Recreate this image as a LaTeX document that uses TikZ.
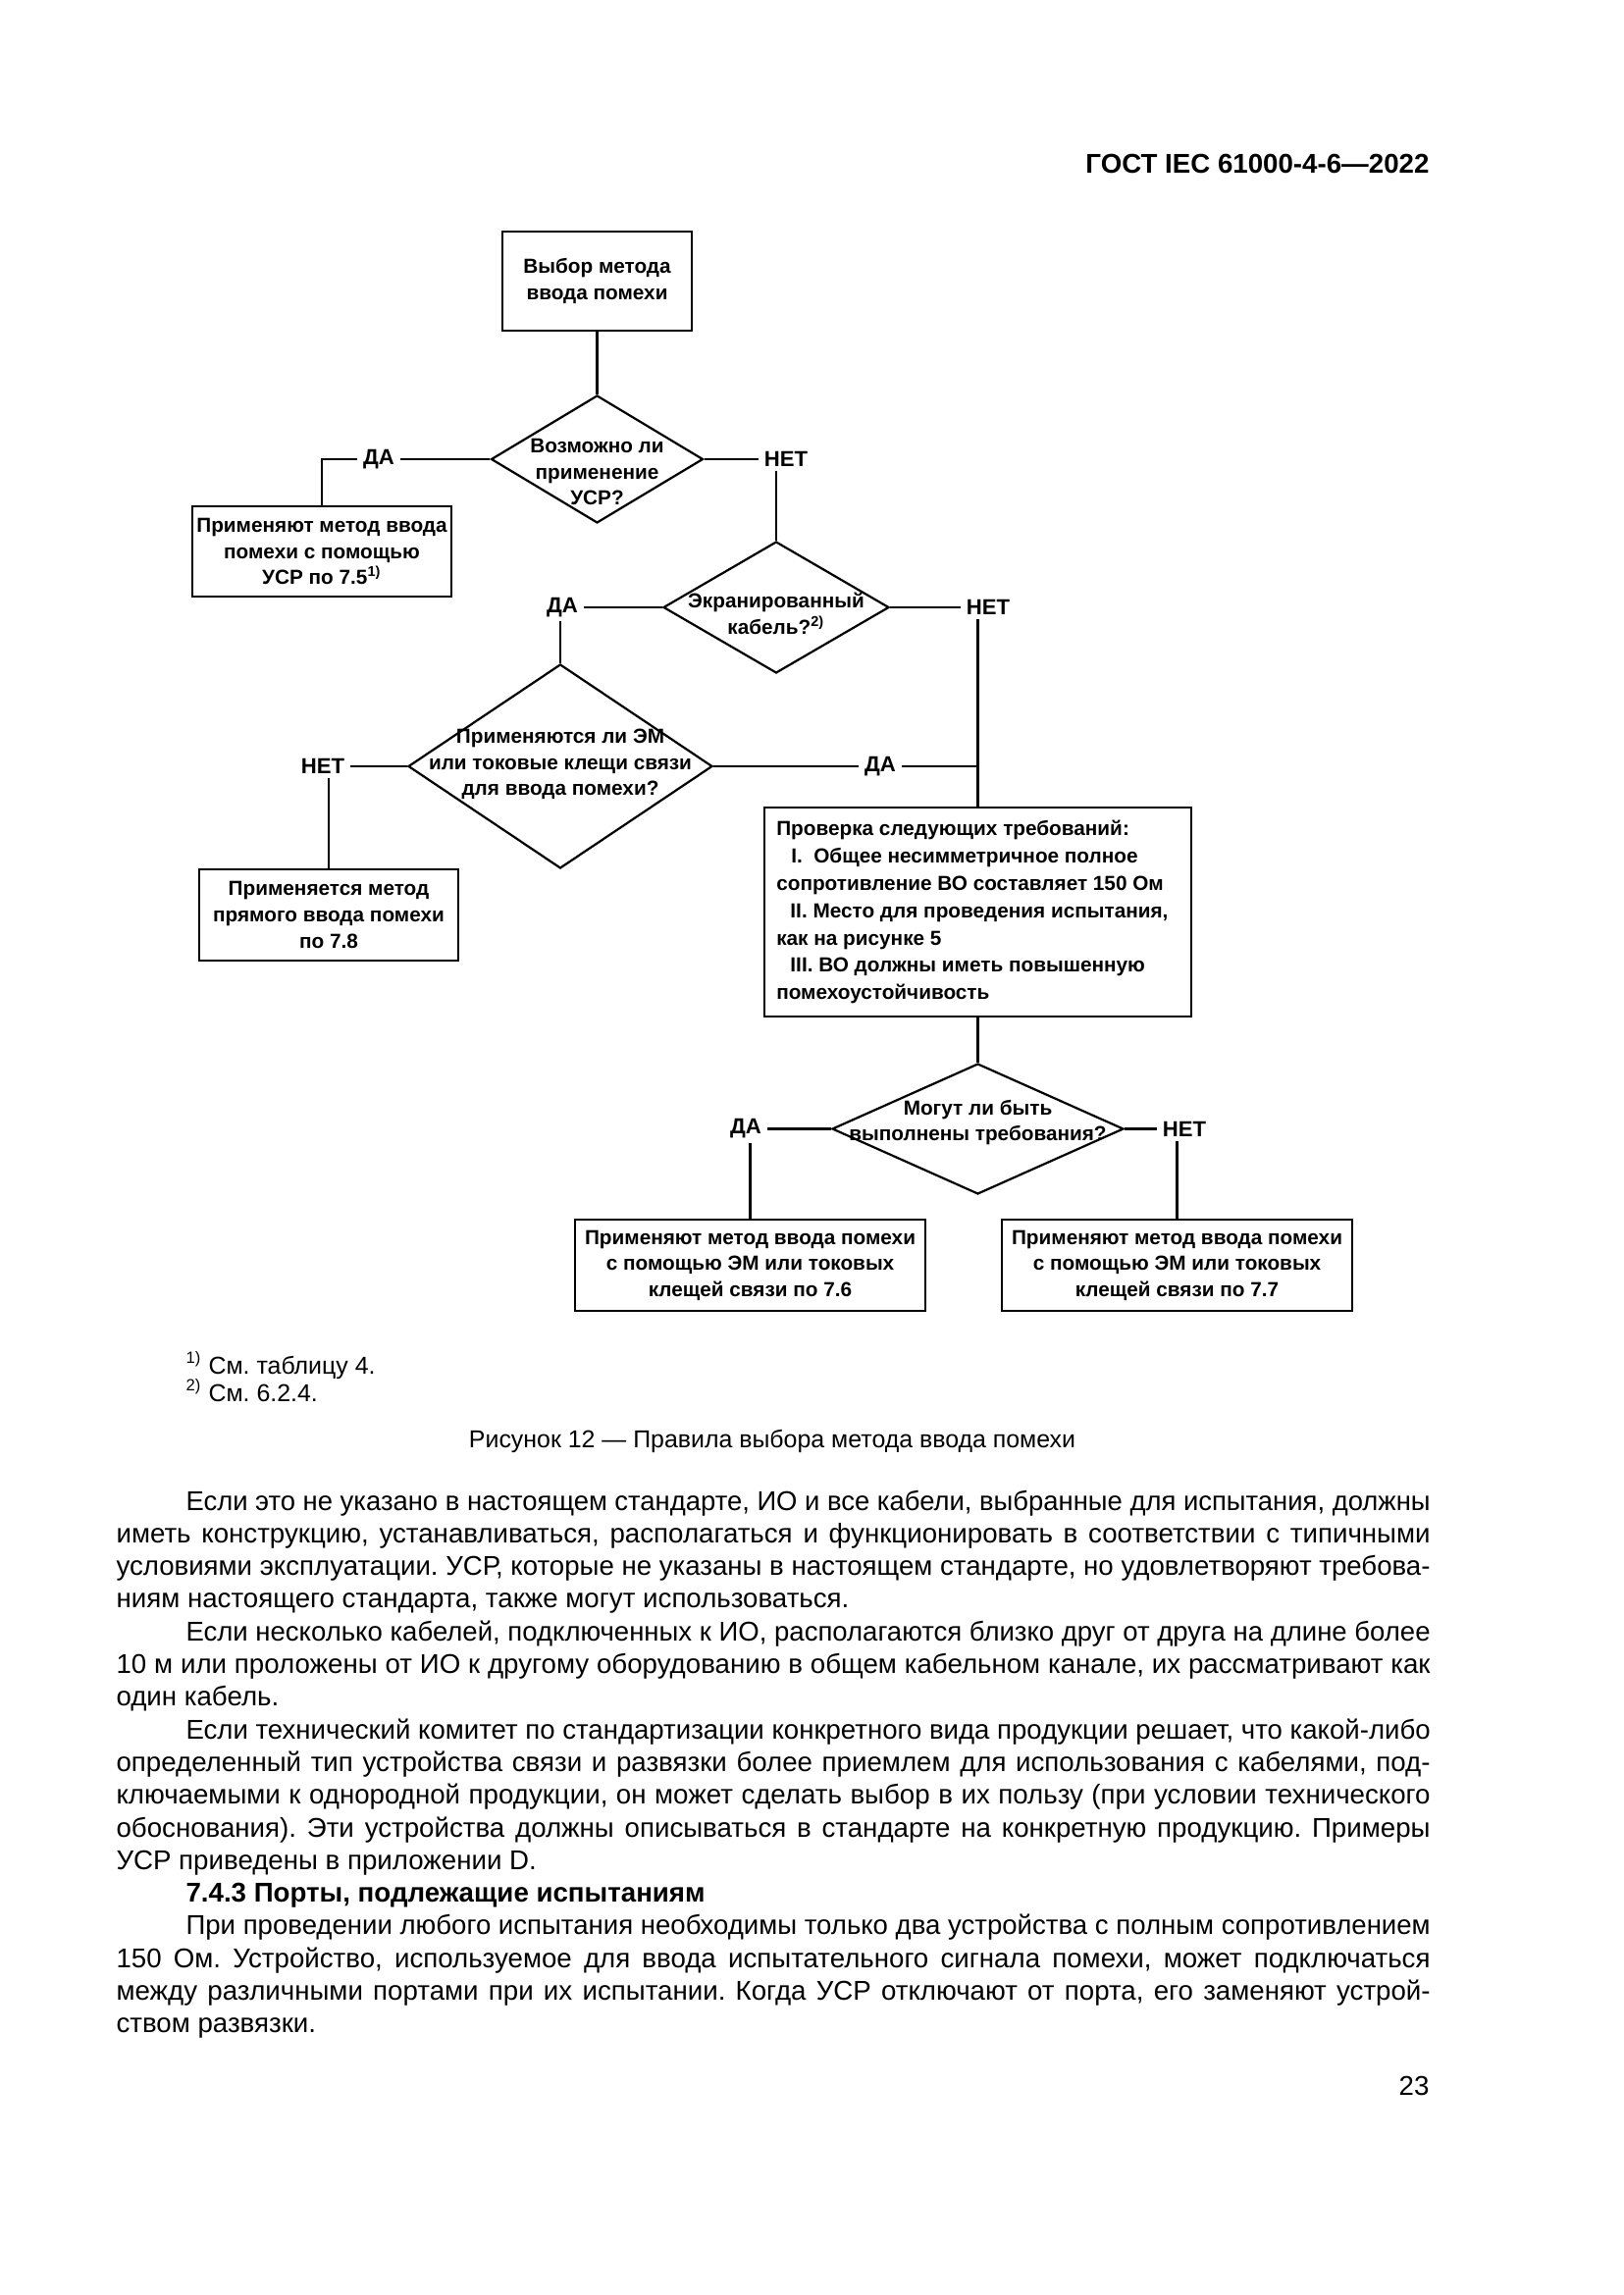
\documentclass[tikz,border=0pt]{standalone}
\usepackage{fontspec}
\setmainfont{Liberation Sans}
\usepackage{graphicx}
\usetikzlibrary{positioning,shapes.geometric,calc}
\frenchspacing

\newcommand\diafont{\fontsize{7.5}{9.6}\selectfont\bfseries}
\newcommand\labfont{\fontsize{8}{9.6}\selectfont\bfseries}
\newcommand\bodyfont{\fontsize{10}{12}\selectfont}
\newlength\fullw \setlength\fullw{170.05mm}
\newlength\indw  \setlength\indw{161.04mm}
\newlength\natw
% justified line of the page text: spread, or squeezed if too long
\newcommand\fitline[2]{\settowidth{\natw}{#2}%
  \ifdim\natw>#1\relax\resizebox{#1}{\height}{#2}\else\makebox[#1][s]{#2}\fi}

\tikzset{
  flowbox/.style={draw, rectangle, line width=0.9pt, inner sep=0pt, align=center, font=\diafont},
  dia/.style={draw, diamond, line width=0.8pt, inner sep=0pt},
  dtext/.style={align=center, inner sep=0pt, font=\diafont},
  yesno/.style={inner xsep=0.7mm, inner ysep=0.5mm, font=\labfont},
  conn/.style={line width=0.8pt},
  bodyln/.style={anchor=base west, inner sep=0pt, font=\bodyfont},
}

\begin{document}
\begin{tikzpicture}[x=0.127mm, y=-0.127mm]
  \path[use as bounding box, fill=white] (0,0) rectangle (1654,2339);

  \node[anchor=base east, inner sep=0pt, font=\fontsize{10}{12}\selectfont\bfseries] (hdr) at (1457,177) {ГОСТ IEC 61000-4-6—2022};

  % boxes and decisions
  \node[flowbox, minimum width=24.51mm, minimum height=12.83mm] (b1) at (608.5,286.5) {Выбор метода\\ввода помехи};
  \node[dia, minimum width=27.43mm, minimum height=16.51mm] (d1) at (608.5,468) {};
  \node[dtext] (t1) at (608.5,481) {Возможно ли\\применение\\УСР?};
  \node[flowbox, minimum width=33.53mm, minimum height=11.68mm] (b2) at (328,562) {Применяют метод ввода\\помехи с помощью\\УСР по 7.5\textsuperscript{1)}};
  \node[dia, minimum width=29.21mm, minimum height=17.02mm] (d2) at (791,619) {};
  \node[dtext] (t2) at (791,625.5) {Экранированный\\кабель?\textsuperscript{2)}};
  \node[dia, minimum width=39.37mm, minimum height=26.42mm] (d3) at (571,781) {};
  \node[dtext] (t3) at (571,779) {Применяются ли ЭМ\\или токовые клещи связи\\для ввода помехи?};
  \node[flowbox, minimum width=33.53mm, minimum height=11.81mm] (b3) at (335,932.5) {Применяется метод\\прямого ввода помехи\\по 7.8};
  \node[flowbox, minimum width=55.25mm, minimum height=27.05mm] (b4) at (996.5,929.5) {};
  \node[dtext, align=left, anchor=west, font=\fontsize{7.5}{10.1}\selectfont\bfseries] (t4) at ($(b4.west)+(13,0)$)
    {Проверка следующих требований:\\
     \hspace*{1.9mm}I.\ \ Общее несимметричное полное\\
     сопротивление ВО составляет 150 Ом\\
     \hspace*{1.8mm}II. Место для проведения испытания,\\
     как на рисунке 5\\
     \hspace*{1.8mm}III. ВО должны иметь повышенную\\
     помехоустойчивость};
  \node[dia, minimum width=37.72mm, minimum height=16.89mm] (d4) at (996.5,1150.5) {};
  \node[dtext] (t5) at (996.5,1144) {Могут ли быть\\выполнены требования?};
  \node[flowbox, minimum width=45.34mm, minimum height=11.81mm] (b5) at (764.5,1289.5) {Применяют метод ввода помехи\\с помощью ЭМ или токовых\\клещей связи по 7.6};
  \node[flowbox, minimum width=45.34mm, minimum height=11.81mm] (b6) at (1199.5,1289.5) {Применяют метод ввода помехи\\с помощью ЭМ или токовых\\клещей связи по 7.7};

  % yes / no labels
  \node[yesno] (da1) at (386,468) {ДА};
  \node[yesno] (net1) at (801,468) {НЕТ};
  \node[yesno] (da2) at (573,619) {ДА};
  \node[yesno] (net2) at (1007,619) {НЕТ};
  \node[yesno] (net3) at (329,781) {НЕТ};
  \node[yesno] (da3) at (897,781) {ДА};
  \node[yesno] (da4) at (760,1150.5) {ДА};
  \node[yesno] (net4) at (1207,1150.5) {НЕТ};

  % connectors
  \draw[conn] (b1.south) -- (d1.north);
  \draw[conn] (d1.west) -- (da1.east);
  \draw[conn] (da1.west) -| (b2.north);
  \draw[conn] (d1.east) -- (net1.west);
  \draw[conn] (net1.south -| d2.north) -- (d2.north);
  \draw[conn] (d2.west) -- (da2.east);
  \draw[conn] (da2.south -| d3.north) -- (d3.north);
  \draw[conn] (d2.east) -- (net2.west);
  \draw[conn] (net2.south -| b4.north) -- (b4.north);
  \draw[conn] (d3.east) -- (da3.west);
  \draw[conn] (da3.east) -- (da3.east -| b4.north);
  \draw[conn] (net3.east) -- (d3.west);
  \draw[conn] (net3.south -| b3.north) -- (b3.north);
  \draw[conn] (b4.south) -- (d4.north);
  \draw[conn] (d4.west) -- (da4.east);
  \draw[conn] (da4.south -| b5.north) -- (b5.north);
  \draw[conn] (d4.east) -- (net4.west);
  \draw[conn] (net4.south -| b6.north) -- (b6.north);

  % notes and caption
  \node[anchor=base west, inner sep=0pt, font=\fontsize{9}{11}\selectfont] (fn1) at (189,1400) {\textsuperscript{1)} См. таблицу 4.};
  \node[anchor=base west, inner sep=0pt, font=\fontsize{9}{11}\selectfont] (fn2) at (189,1428) {\textsuperscript{2)} См. 6.2.4.};
  \node[anchor=base, inner sep=0pt, font=\fontsize{9}{11}\selectfont] (cap) at (787,1475) {Рисунок 12 — Правила выбора метода ввода помехи};

  % page text
  \node[bodyln] (p1a) at (189,1539.0) {\fitline\indw{Если это не указано в настоящем стандарте, ИО и все кабели, выбранные для испытания, должны}};
  \node[bodyln] (p1b) at (118,1572.3) {\fitline\fullw{иметь конструкцию, устанавливаться, располагаться и функционировать в соответствии с типичными}};
  \node[bodyln] (p1c) at (118,1605.6) {\fitline\fullw{условиями эксплуатации. УСР, которые не указаны в настоящем стандарте, но удовлетворяют требова-}};
  \node[bodyln] (p1d) at (118,1638.9) {ниям настоящего стандарта, также могут использоваться.};
  \node[bodyln] (p2a) at (189,1672.2) {\fitline\indw{Если несколько кабелей, подключенных к ИО, располагаются близко друг от друга на длине более}};
  \node[bodyln] (p2b) at (118,1705.5) {\fitline\fullw{10 м или проложены от ИО к другому оборудованию в общем кабельном канале, их рассматривают как}};
  \node[bodyln] (p2c) at (118,1738.8) {один кабель.};
  \node[bodyln] (p3a) at (189,1772.1) {\fitline\indw{Если технический комитет по стандартизации конкретного вида продукции решает, что какой-либо}};
  \node[bodyln] (p3b) at (118,1805.4) {\fitline\fullw{определенный тип устройства связи и развязки более приемлем для использования с кабелями, под-}};
  \node[bodyln] (p3c) at (118,1838.7) {\fitline\fullw{ключаемыми к однородной продукции, он может сделать выбор в их пользу (при условии технического}};
  \node[bodyln] (p3d) at (118,1872.0) {\fitline\fullw{обоснования). Эти устройства должны описываться в стандарте на конкретную продукцию. Примеры}};
  \node[bodyln] (p3e) at (118,1905.3) {УСР приведены в приложении D.};
  \node[bodyln, font=\bodyfont\bfseries] (h743) at (189,1938.6) {7.4.3 Порты, подлежащие испытаниям};
  \node[bodyln] (p4a) at (189,1971.9) {\fitline\indw{При проведении любого испытания необходимы только два устройства с полным сопротивлением}};
  \node[bodyln] (p4b) at (118,2005.2) {\fitline\fullw{150 Ом. Устройство, используемое для ввода испытательного сигнала помехи, может подключаться}};
  \node[bodyln] (p4c) at (118,2038.5) {\fitline\fullw{между различными портами при их испытании. Когда УСР отключают от порта, его заменяют устрой-}};
  \node[bodyln] (p4d) at (118,2071.8) {ством развязки.};

  \node[anchor=base east, inner sep=0pt, font=\bodyfont] (pg) at (1457,2135) {23};
\end{tikzpicture}
\end{document}
